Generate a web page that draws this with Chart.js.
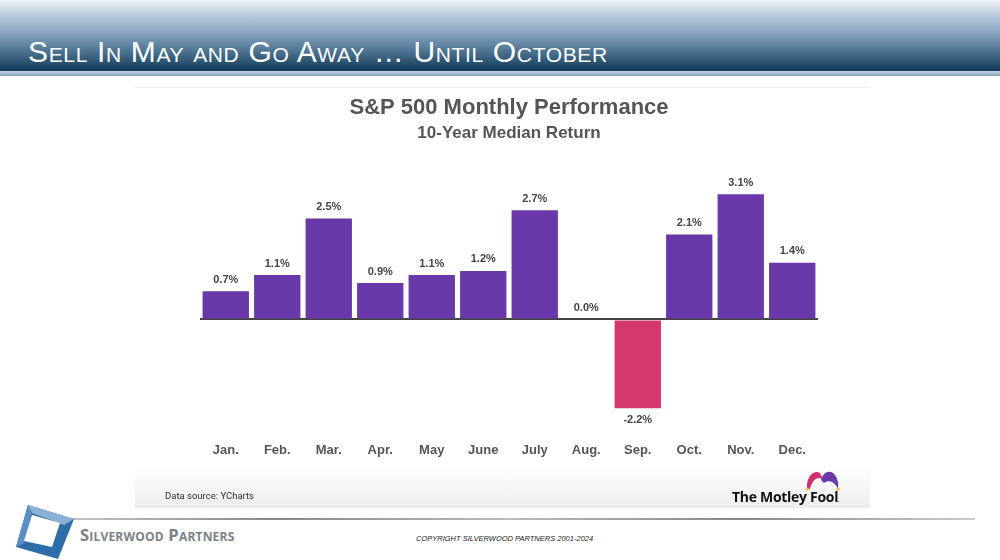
<!DOCTYPE html>
<html>
<head>
<meta charset="utf-8">
<script src="https://cdn.jsdelivr.net/npm/chart.js@4/dist/chart.umd.min.js"></script>
<style>
  html, body { margin: 0; padding: 0; }
  body { width: 1000px; height: 560px; position: relative; overflow: hidden; background: #fff; font-family: "Liberation Sans", Arial, sans-serif; }
  #header {
    position: absolute; left: 0; top: 0; width: 1000px; height: 71px;
    background: linear-gradient(to bottom, #eef3f9 0%, #b7c9dc 22%, #8ba7c2 45%, #527895 70%, #0f3a57 100%);
  }
  #headline { position: absolute; left: 0; top: 71px; width: 1000px; height: 5px; background: linear-gradient(to bottom, #c9d6e3, #7f9fbd); }
  #title {
    position: absolute; left: 28px; top: 35px; color: #fff; font-size: 30px; line-height: normal;
    font-variant: small-caps; letter-spacing: 0.65px; white-space: nowrap;
  }
  #panel {
    position: absolute; left: 135px; top: 87px; width: 735px; height: 420px;
    background: linear-gradient(to bottom, #fff 0%, #fff 90%, #f4f4f4 96%, #ececec 100%);
    border-top: 1px solid #eee;
  }
  #chart { position: absolute; left: 0; top: 0; }
  #source { position: absolute; left: 30px; top: 402px; font-size: 9.5px; color: #333; font-family: Roboto, "Liberation Sans", sans-serif; }
  #fool { position: absolute; left: 597px; top: 399px; font-size: 14px; font-weight: bold; color: #111; font-family: "Open Sans", Lato, sans-serif; letter-spacing: -0.3px; }
  #hat { position: absolute; left: 669px; top: 382px; }
  #rule { position: absolute; left: 42px; top: 518px; width: 933px; height: 2px; background: linear-gradient(to right, #ccc, #888, #bbb, #888, #ccc); }
  #logo { position: absolute; left: 14px; top: 503px; }
  #brand { position: absolute; left: 80px; top: 523px; font-size: 16.5px; font-weight: bold; color: #7b8188; font-variant: small-caps; letter-spacing: 0.2px; font-family: "Open Sans", sans-serif; }
  #copy { position: absolute; left: 416px; top: 534px; font-size: 7.5px; font-style: italic; color: #222; }
</style>
</head>
<body>
<div id="header"><div id="title">Sell In May and Go Away … Until October</div></div>
<div id="headline"></div>
<div id="panel">
  <canvas id="chart" width="735" height="420"></canvas>
  <div id="source">Data source: YCharts</div>
  <div id="fool">The Motley Fool<span style="font-size:5px">.</span></div>
  <svg id="hat" width="38" height="22" viewBox="0 0 38 22">
    <path d="M3 19 C2 8 8 1 14 2 C17 3 18 7 19 10 C15 6 9 8 6 19 Z" fill="#d0306f"/>
    <path d="M17 10 C19 2 25 0 29 3 C33 6 35 13 34 19 C31 12 25 9 20 13 Z" fill="#6a3aab"/>
    <circle cx="3.5" cy="19" r="1.6" fill="#f2b233"/>
    <circle cx="34" cy="19" r="1.6" fill="#f2b233"/>
  </svg>
</div>
<div id="rule"></div>
<svg id="logo" width="62" height="56" viewBox="0 0 62 56">
  <polygon points="14,2 60,16 44,56 2,44" fill="#2d6ea8"/>
  <polygon points="14,2 60,16 50,22 18,10" fill="#8db1d6"/>
  <polygon points="2,44 14,2 18,10 10,40" fill="#5b8fc4"/>
  <polygon points="18,12 46,20 38,44 10,38" fill="#fff"/>
</svg>
<div id="brand">Silverwood Partners</div>
<div id="copy">COPYRIGHT SILVERWOOD PARTNERS 2001-2024</div>

<script>
const months = ['Jan.', 'Feb.', 'Mar.', 'Apr.', 'May', 'June', 'July', 'Aug.', 'Sep.', 'Oct.', 'Nov.', 'Dec.'];
const medianReturn = [0.7, 1.1, 2.5, 0.9, 1.1, 1.2, 2.7, 0.0, -2.2, 2.1, 3.1, 1.4];

const purple = '#6939aa';
const pink = '#d5386f';

// value labels above (or below) each bar
const valueLabels = {
  id: 'valueLabels',
  afterDatasetsDraw(chart) {
    const ctx = chart.ctx;
    const meta = chart.getDatasetMeta(0);
    ctx.save();
    ctx.font = 'bold 11px "Liberation Sans", Arial, sans-serif';
    ctx.fillStyle = '#444';
    ctx.textAlign = 'center';
    meta.data.forEach((bar, i) => {
      const v = medianReturn[i];
      const txt = v.toFixed(1) + '%';
      if (v < 0) {
        ctx.textBaseline = 'top';
        ctx.fillText(txt, bar.x, bar.y + 6);
      } else {
        ctx.textBaseline = 'bottom';
        ctx.fillText(txt, bar.x, bar.y - 6);
      }
    });
    ctx.restore();
  }
};

new Chart(document.getElementById('chart').getContext('2d'), {
  type: 'bar',
  data: {
    labels: months,
    datasets: [{
      data: medianReturn,
      backgroundColor: medianReturn.map(v => v < 0 ? pink : purple),
      categoryPercentage: 0.9,
      barPercentage: 1.0
    }]
  },
  options: {
    responsive: false,
    animation: false,
    layout: { padding: { left: 65, right: 52, top: 0, bottom: 49 } },
    plugins: {
      legend: { display: false },
      tooltip: { enabled: false },
      title: {
        display: true,
        text: 'S&P 500 Monthly Performance',
        color: '#555',
        font: { size: 22, weight: 'bold', family: '"Liberation Sans", Arial, sans-serif' },
        padding: { top: 7, bottom: 2 }
      },
      subtitle: {
        display: true,
        text: '10-Year Median Return',
        color: '#555',
        font: { size: 17, weight: 'bold', family: '"Liberation Sans", Arial, sans-serif' },
        padding: { top: 0, bottom: 14 }
      }
    },
    scales: {
      x: {
        grid: { display: false },
        border: { display: false },
        ticks: {
          color: '#555',
          padding: 1,
          font: { size: 13, weight: 'bold', family: '"Liberation Sans", Arial, sans-serif' }
        }
      },
      y: {
        display: true,
        min: -2.82,
        max: 4,
        ticks: { display: false, stepSize: 1 },
        border: { display: false },
        grid: {
          drawTicks: false,
          lineWidth: ctx => ctx.tick && ctx.tick.value === 0 ? 2 : 0,
          color: '#444'
        }
      }
    }
  },
  plugins: [valueLabels]
});
</script>
</body>
</html>
